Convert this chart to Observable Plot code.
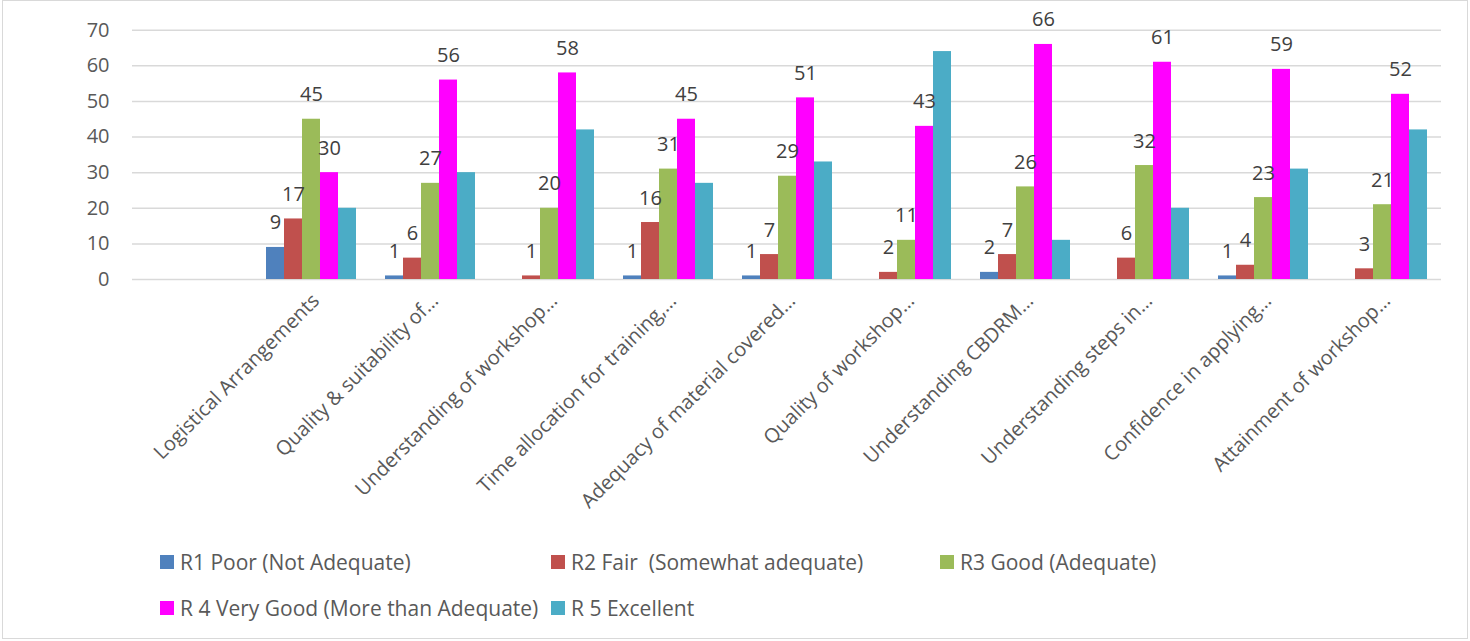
<!DOCTYPE html>
<html><head><meta charset="utf-8">
<script src="https://cdn.jsdelivr.net/npm/d3@7"></script>
<script src="https://cdn.jsdelivr.net/npm/@observablehq/plot@0.6"></script>
<style>
body{margin:0;background:#fff;font-family:"Open Sans",sans-serif;}
#wrap{position:relative;width:1470px;height:641px;overflow:hidden;background:#fff}
#frame{position:absolute;left:2px;top:0;width:1466px;height:639px;border:1px solid #d9d9d9;box-sizing:border-box}
#chart{position:absolute;left:0;top:0}
.leg{position:absolute;height:30px;display:flex;align-items:center;font-size:21px;color:#595959;white-space:pre}
.sw{width:14px;height:14px;margin-right:6px;flex:none}
</style></head><body>
<div id="wrap"><div id="frame"></div><div id="chart"></div><div id="legend"></div></div>
<script>
const categories = ["", "Logistical Arrangements", "Quality & suitability of…", "Understanding of workshop…", "Time allocation for training,…", "Adequacy of material covered…", "Quality of workshop…", "Understanding CBDRM…", "Understanding steps in…", "Confidence in applying…", "Attainment of workshop…"];
const series = ["R1 Poor (Not Adequate)", "R2 Fair  (Somewhat adequate)", "R3 Good (Adequate)", "R 4 Very Good (More than Adequate)", "R 5 Excellent"];
const colors = ["#4f81bd", "#c0504d", "#9bbb59", "#ff00ff", "#4bacc6"];
const r1 = [null, 9, 1, 0, 1, 1, 0, 2, 0, 1, 0];
const r2 = [null, 17, 6, 1, 16, 7, 2, 7, 6, 4, 3];
const r3 = [null, 45, 27, 20, 31, 29, 11, 26, 32, 23, 21];
const r4 = [null, 30, 56, 58, 45, 51, 43, 66, 61, 59, 52];
const r5 = [null, 20, 30, 42, 27, 33, 64, 11, 20, 31, 42];
const labelledSeries = series.slice(0, 4);
const yTicks = [0, 10, 20, 30, 40, 50, 60, 70];

const valuesBySeries = [r1, r2, r3, r4, r5];
const rows = [];
categories.forEach((c, i) => series.forEach((s, j) => rows.push({category: c, series: s, value: valuesBySeries[j][i]})));
const labelRows = rows.filter(d => labelledSeries.includes(d.series) && d.value > 0);

const chart = Plot.plot({
  width: 1470,
  height: 535,
  marginLeft: 131,
  marginRight: 28,
  marginTop: 29.7,
  marginBottom: 256,
  style: {fontFamily: "'Open Sans', sans-serif", fontSize: "20px", color: "#595959", background: "transparent"},
  fx: {domain: categories, paddingInner: 0, paddingOuter: 0, label: null, axis: null},
  x: {domain: series, paddingInner: 0, paddingOuter: 0.757, axis: null},
  y: {domain: [0, 70], ticks: yTicks, label: null, axis: null},
  color: {domain: series, range: colors},
  marks: [
    Plot.ruleY(yTicks, {stroke: "#d9d9d9", strokeWidth: 1.5}),
    Plot.barY(rows, {fx: "category", x: "series", y: "value", fill: "series"}),
    Plot.text(labelRows, {fx: "category", x: "series", y: "value", text: d => String(d.value), lineAnchor: "bottom", dy: -18, fontSize: 20, fill: "#404040"}),
    Plot.axisY({ticks: yTicks, tickSize: 0, tickPadding: 23, fontSize: 20, label: null}),
    Plot.axisFx({anchor: "bottom", tickRotate: -45, tickSize: 0, tickPadding: 18, dx: 5, fontSize: 20, label: null})
  ]
});
document.getElementById("chart").appendChild(chart);

const legendPos = [[160, 547], [551, 547], [940, 547], [160, 593], [551, 593]];
const legend = document.getElementById("legend");
series.forEach((s, i) => {
  const el = document.createElement("div");
  el.className = "leg";
  el.style.left = legendPos[i][0] + "px";
  el.style.top = legendPos[i][1] + "px";
  const sw = document.createElement("span");
  sw.className = "sw";
  sw.style.background = colors[i];
  const t = document.createElement("span");
  t.textContent = s;
  el.appendChild(sw); el.appendChild(t);
  legend.appendChild(el);
});
</script>
</body></html>
